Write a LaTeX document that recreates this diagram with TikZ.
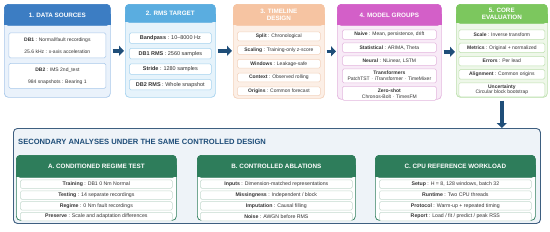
\documentclass[tikz,border=0pt]{standalone}
\usepackage{fontspec}
\setmainfont{Liberation Sans}
\usetikzlibrary{arrows.meta,positioning,calc}
\usepackage{xcolor}

\definecolor{c1head}{HTML}{3C7DC3}
\definecolor{c1body}{HTML}{EAF2FB}
\definecolor{c1line}{HTML}{A8C8EA}
\definecolor{c2head}{HTML}{5AADE0}
\definecolor{c2body}{HTML}{E6F3FB}
\definecolor{c2line}{HTML}{A6D3EF}
\definecolor{c3head}{HTML}{F6C4A2}
\definecolor{c3body}{HTML}{FCEFE6}
\definecolor{c3line}{HTML}{F3D2BC}
\definecolor{c4head}{HTML}{D35FC8}
\definecolor{c4body}{HTML}{F8EBF7}
\definecolor{c4line}{HTML}{E3B6DE}
\definecolor{c5head}{HTML}{7CC75E}
\definecolor{c5body}{HTML}{EEF7E9}
\definecolor{c5line}{HTML}{BDE0AE}
\definecolor{flowcol}{HTML}{1F4E79}
\definecolor{secbody}{HTML}{EEF3F8}
\definecolor{secline}{HTML}{3E5F80}
\definecolor{subhead}{HTML}{2E7D5B}
\definecolor{subrow}{HTML}{C4D9CE}
\definecolor{txt}{HTML}{333333}

\begin{document}
\begin{tikzpicture}[
    x=1pt, y=-1pt,
    card/.style={draw=#1, rounded corners=4pt, line width=0.7pt, inner sep=0pt, anchor=north west},
    head/.style={fill=#1, draw=#1, rounded corners=4pt, line width=0.7pt, inner sep=0pt, anchor=north, text=white, align=center, font=\fontsize{6.3}{7.3}\selectfont\bfseries},
    row/.style={draw=#1, fill=white, rounded corners=1.5pt, line width=0.5pt, inner sep=0.5pt, align=center, text=txt, font=\fontsize{5}{5.9}\selectfont},
    flow/.style={-{Triangle[length=5pt, width=10pt]}, line width=3.6pt, draw=flowcol, shorten <=2pt, shorten >=1pt},
    subcard/.style={draw=subhead, fill=white, rounded corners=4pt, line width=0.7pt, inner sep=0pt, anchor=north west, minimum height=65pt},
    subrowbox/.style={row=subrow, minimum width=152pt, minimum height=8.5pt, font=\fontsize{5.2}{6}\selectfont}
]
\useasboundingbox (0,0) rectangle (550,231);

% 1. data sources
\node[card=c1line, fill=c1body, minimum width=106pt, minimum height=93pt] (c1) at (4,4) {};
\fill[c1head] ($(c1.north west)+(0,10)$) rectangle ($(c1.north east)+(0,21)$);
\node[head=c1head, minimum width=106pt, minimum height=21pt] (h1) at (c1.north) {1. DATA SOURCES};
\node[row=c1line, minimum width=97pt, minimum height=25pt, below=7pt of h1] (r11) {\textbf{DB1} : Normal/fault recordings\\[6.5pt]25.6 kHz : x-axis acceleration};
\node[row=c1line, minimum width=97pt, minimum height=25pt, below=5pt of r11] (r12) {\textbf{DB2} : IMS 2nd\_test\\[6.5pt]984 snapshots : Bearing 1};

% 2. rms target
\node[card=c2line, fill=c2body, minimum width=90pt, minimum height=93pt] (c2) at (125,4) {};
\fill[c2head] ($(c2.north west)+(0,10)$) rectangle ($(c2.north east)+(0,18)$);
\node[head=c2head, minimum width=90pt, minimum height=18pt] (h2) at (c2.north) {2. RMS TARGET};
\node[row=c2line, minimum width=82pt, minimum height=10.5pt, below=10pt of h2, font=\fontsize{5.5}{6.4}\selectfont] (r21) {\textbf{Bandpass} : 10--8000 Hz};
\node[row=c2line, minimum width=82pt, minimum height=10.5pt, below=4.5pt of r21, font=\fontsize{5.5}{6.4}\selectfont] (r22) {\textbf{DB1 RMS} : 2560 samples};
\node[row=c2line, minimum width=82pt, minimum height=10.5pt, below=4.5pt of r22, font=\fontsize{5.5}{6.4}\selectfont] (r23) {\textbf{Stride} : 1280 samples};
\node[row=c2line, minimum width=82pt, minimum height=10.5pt, below=4.5pt of r23, font=\fontsize{5.5}{6.4}\selectfont] (r24) {\textbf{DB2 RMS} : Whole snapshot};

% 3. timeline design
\node[card=c3line, fill=c3body, minimum width=91pt, minimum height=94pt] (c3) at (233,4) {};
\fill[c3head] ($(c3.north west)+(0,10)$) rectangle ($(c3.north east)+(0,21)$);
\node[head=c3head, minimum width=91pt, minimum height=21pt] (h3) at (c3.north) {3. TIMELINE\\DESIGN};
\node[row=c3line, minimum width=83pt, minimum height=8.8pt, below=6pt of h3] (r31) {\textbf{Split} : Chronological};
\node[row=c3line, minimum width=83pt, minimum height=8.8pt, below=4.4pt of r31] (r32) {\textbf{Scaling} : Training-only z-score};
\node[row=c3line, minimum width=83pt, minimum height=8.8pt, below=4.4pt of r32] (r33) {\textbf{Windows} : Leakage-safe};
\node[row=c3line, minimum width=83pt, minimum height=8.8pt, below=4.4pt of r33] (r34) {\textbf{Context} : Observed rolling};
\node[row=c3line, minimum width=83pt, minimum height=8.8pt, below=4.4pt of r34] (r35) {\textbf{Origins} : Common forecast};

% 4. model groups
\node[card=c4line, fill=c4body, minimum width=104pt, minimum height=95pt] (c4) at (337,4) {};
\fill[c4head] ($(c4.north west)+(0,10)$) rectangle ($(c4.north east)+(0,21)$);
\node[head=c4head, minimum width=104pt, minimum height=21pt] (h4) at (c4.north) {4. MODEL GROUPS};
\node[row=c4line, minimum width=94pt, minimum height=9.5pt, below=4pt of h4] (r41) {\textbf{Naive} : Mean, persistence, drift};
\node[row=c4line, minimum width=94pt, minimum height=9.5pt, below=3pt of r41] (r42) {\textbf{Statistical} : ARIMA, Theta};
\node[row=c4line, minimum width=94pt, minimum height=9.5pt, below=3pt of r42] (r43) {\textbf{Neural} : NLinear, LSTM};
\node[row=c4line, minimum width=94pt, minimum height=14pt, below=3pt of r43] (r44) {\textbf{Transformers}\\PatchTST $\cdot$ iTransformer $\cdot$ TimeMixer};
\node[row=c4line, minimum width=94pt, minimum height=14pt, below=3pt of r44] (r45) {\textbf{Zero-shot}\\Chronos-Bolt $\cdot$ TimesFM};

% 5. core evaluation
\node[card=c5line, fill=c5body, minimum width=91pt, minimum height=93pt] (c5) at (456,4) {};
\fill[c5head] ($(c5.north west)+(0,10)$) rectangle ($(c5.north east)+(0,19)$);
\node[head=c5head, minimum width=91pt, minimum height=19pt] (h5) at (c5.north) {5. CORE\\EVALUATION};
\node[row=c5line, minimum width=86pt, minimum height=9.5pt, below=6pt of h5] (r51) {\textbf{Scale} : Inverse transform};
\node[row=c5line, minimum width=86pt, minimum height=9.5pt, below=3.2pt of r51] (r52) {\textbf{Metrics} : Original + normalized};
\node[row=c5line, minimum width=86pt, minimum height=9.5pt, below=3.2pt of r52] (r53) {\textbf{Errors} : Per lead};
\node[row=c5line, minimum width=86pt, minimum height=9.5pt, below=3.2pt of r53] (r54) {\textbf{Alignment} : Common origins};
\node[row=c5line, minimum width=86pt, minimum height=14pt, below=3.2pt of r54] (r55) {\textbf{Uncertainty}\\Circular block bootstrap};

% pipeline arrows
\draw[flow] (c1.east) -- (c2.west |- c1.east);
\draw[flow] (c2.east) -- (c3.west |- c2.east);
\draw[flow] (c3.east) -- (c4.west |- c3.east);
\draw[flow] (c4.east) -- (c5.west |- c4.east);

% secondary analyses
\node[card=secline, fill=secbody, line width=0.9pt, minimum width=527pt, minimum height=95pt] (sec) at (13,128) {};
\node[anchor=west, text=flowcol, font=\fontsize{7.6}{8.4}\selectfont\bfseries, inner sep=0pt] (sectitle) at ($(sec.north west)+(5,14)$) {SECONDARY ANALYSES UNDER THE SAME CONTROLLED DESIGN};
\draw[flow, shorten <=3pt, shorten >=0pt] (c5.south) -- (sec.north -| c5.south);

\node[subcard, minimum width=160pt] (sa) at (16,155) {};
\fill[subhead] ($(sa.north west)+(0,10)$) rectangle ($(sa.north east)+(0,22)$);
\node[head=subhead, minimum width=160pt, minimum height=22pt] (ha) at (sa.north) {A. CONDITIONED REGIME TEST};
\node[subrowbox, below=2pt of ha] (ra1) {\textbf{Training} : DB1 0 Nm Normal};
\node[subrowbox, below=1.8pt of ra1] (ra2) {\textbf{Testing} : 14 separate recordings};
\node[subrowbox, below=1.8pt of ra2] (ra3) {\textbf{Regime} : 0 Nm fault recordings};
\node[subrowbox, below=1.8pt of ra3] (ra4) {\textbf{Preserve} : Scale and adaptation differences};

\node[subcard, minimum width=158pt] (sb) at (197,155) {};
\fill[subhead] ($(sb.north west)+(0,10)$) rectangle ($(sb.north east)+(0,22)$);
\node[head=subhead, minimum width=158pt, minimum height=22pt] (hb) at (sb.north) {B. CONTROLLED ABLATIONS};
\node[subrowbox, below=2pt of hb] (rb1) {\textbf{Inputs} : Dimension-matched representations};
\node[subrowbox, below=1.8pt of rb1] (rb2) {\textbf{Missingness} : Independent / block};
\node[subrowbox, below=1.8pt of rb2] (rb3) {\textbf{Imputation} : Causal filling};
\node[subrowbox, below=1.8pt of rb3] (rb4) {\textbf{Noise} : AWGN before RMS};

\node[subcard, minimum width=160pt] (sc) at (375,155) {};
\fill[subhead] ($(sc.north west)+(0,10)$) rectangle ($(sc.north east)+(0,22)$);
\node[head=subhead, minimum width=160pt, minimum height=22pt] (hc) at (sc.north) {C. CPU REFERENCE WORKLOAD};
\node[subrowbox, below=2pt of hc] (rc1) {\textbf{Setup} : H = 8, 128 windows, batch 32};
\node[subrowbox, below=1.8pt of rc1] (rc2) {\textbf{Runtime} : Two CPU threads};
\node[subrowbox, below=1.8pt of rc2] (rc3) {\textbf{Protocol} : Warm-up + repeated timing};
\node[subrowbox, below=1.8pt of rc3] (rc4) {\textbf{Report} : Load / fit / predict / peak RSS};
\end{tikzpicture}
\end{document}
